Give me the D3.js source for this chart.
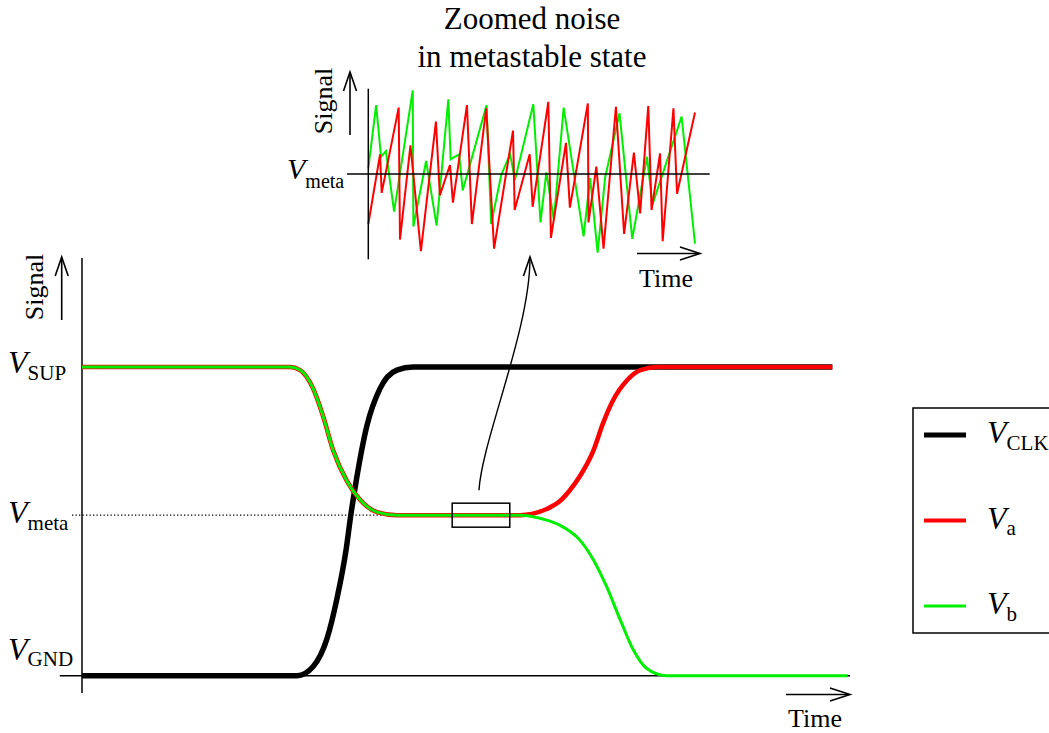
<!DOCTYPE html>
<html>
<head>
<meta charset="utf-8">
<script src="https://cdn.jsdelivr.net/npm/d3@7"></script>
</head>
<body style="margin:0">
<svg width="1049" height="733"></svg>
<script>
"use strict";

// signal levels, as a fraction of the supply
const levelNames = ["SUP", "meta", "GND"];
const levelValues = [1, 0.52, 0];

// main traces as [time, signal]
const clkPoints = [[0, 0], [28, 0], [30.1, 0.03], [31.9, 0.12], [33.2, 0.25], [34.4, 0.41], [35, 0.52],
    [35.5, 0.6], [37.1, 0.81], [38.8, 0.93], [41, 0.99], [43.1, 1], [97.7, 1]];
const vaPoints = [[0, 1], [27.1, 1], [28.4, 0.99], [30.1, 0.93], [31.4, 0.84], [32.7, 0.73], [34.5, 0.63],
    [36.2, 0.57], [38.4, 0.53], [41, 0.52], [57, 0.52], [60.5, 0.54], [62.2, 0.565], [63.5, 0.6],
    [64.8, 0.645], [66.6, 0.73], [67.8, 0.815], [69.1, 0.89], [71, 0.958], [72.7, 0.99], [75, 1], [97.7, 1]];
const vbPoints = [[0, 1], [27.1, 1], [28.4, 0.99], [30.1, 0.93], [31.4, 0.84], [32.7, 0.73], [34.5, 0.63],
    [36.2, 0.57], [38.4, 0.53], [41, 0.52], [57, 0.52], [60.5, 0.504], [62.2, 0.488], [64.8, 0.44],
    [66.6, 0.375], [68.3, 0.289], [70.1, 0.18], [71.8, 0.083], [73.5, 0.024], [76.1, 0], [99.7, 0]];

// zoomed noise around V_meta, [time, deviation]
const noiseA = [[0, -0.61], [3.6, 0.24], [4.1, -0.23], [9.3, 0.81], [9.7, -0.8], [12.9, 0.35], [16.1, -0.94],
    [20.7, 0.64], [21.9, -0.26], [25, 0.11], [25.9, -0.35], [30.2, 0.84], [31.7, -0.61], [36.1, 0.8],
    [38.5, -0.91], [44.3, 0.53], [44.8, -0.44], [49.4, 0.24], [50.3, -0.4], [55.1, 0.88], [55.9, -0.78],
    [60.5, 0.38], [61.7, -0.41], [67.2, 0.86], [67.4, -0.59], [69.8, 0.09], [72, -0.91], [75.8, 0.82],
    [78.3, -0.73], [81.3, 0.26], [83.2, -0.48], [85.7, 0.83], [86.7, -0.44], [89.3, 0.25], [90.1, -0.82],
    [93.4, 0.8], [94.5, -0.24], [100, 0.75]];
const noiseB = [[0, 0.07], [2.4, 0.84], [3.9, 0.21], [5.4, 0.28], [7.9, -0.46], [13.6, 1.02], [13.8, -0.64],
    [17.7, 0.16], [20.9, -0.63], [24.5, 0.91], [25.2, 0.18], [27.8, 0.24], [28.9, -0.2], [36.2, 0.84],
    [37.6, -0.61], [40.7, -0.01], [43.4, 0.24], [44.9, -0.07], [50.5, 0.85], [52.7, -0.59], [54.5, 0.02],
    [56.8, -0.56], [59.8, 0.81], [65.9, -0.76], [67.9, -0.05], [70.2, -0.96], [72.5, -0.04], [76.9, 0.74],
    [80.8, -0.79], [85.3, 0.21], [87, -0.37], [95.9, 0.7], [100, -0.85]];

// zoom window on the main time axis
const zoomWindow = [48.2, 55.7];

const legendNames = ["CLK", "a", "b"];
const legendColors = ["#000000", "#ff0000", "#00ee00"];
const legendWidths = [5, 4, 3];

let svg = d3.select("svg");

let x = d3.scaleLinear().domain([0, 100]).range([82, 850]);
let y = d3.scaleLinear().domain([0, 1]).range([675.7, 367]);

let xi = d3.scaleLinear().domain([0, 100]).range([368.3, 695]);
let yi = d3.scaleLinear().domain([-1, 1]).range([256, 92]);

function arrowHead(g, tx, ty, dir) {
    // open chevron, dir = "up" or "right"
    let p = dir === "up"
        ? [[tx - 6.5, ty + 19], [tx, ty], [tx + 6.5, ty + 19]]
        : [[tx - 20, ty - 6.5], [tx, ty], [tx - 20, ty + 6.5]];
    g.append("path").attr("d", d3.line()(p))
        .attr("fill", "none").attr("stroke", "#000").attr("stroke-width", 1.6);
}

// text is always set at 30px and scaled to the wanted size
function addText(g, txt, size, px, py, opts) {
    opts = opts || {};
    let t = g.append("text")
        .attr("font-family", "'Liberation Serif'")
        .attr("font-size", 30)
        .text(txt);
    if (opts.italic) t.attr("font-style", "italic");
    let s = size / 30;
    let w = t.node().getComputedTextLength() * s;
    let shift = opts.middle ? -w / 2 : 0;
    t.attr("transform", "translate(" + px + "," + py + ")" +
        (opts.rotate ? " rotate(" + opts.rotate + ")" : "") +
        " translate(" + shift + ",0) scale(" + s + ")");
    return w;
}

function vLabel(g, px, py, sub, big, small, dy) {
    let w = addText(g, "V", big, px, py, { italic: true });
    addText(g, sub, small, px + w, py + dy);
}

addText(svg, "Zoomed noise", 31, 532, 29, { middle: true });
addText(svg, "in metastable state", 31, 532, 67, { middle: true });

// ---------- main chart ----------
let main = svg.append("g");

main.append("line")
    .attr("x1", x(0)).attr("x2", x(0))
    .attr("y1", y(1.353)).attr("y2", y(-0.056))
    .attr("stroke", "#000").attr("stroke-width", 1.5);
main.append("line")
    .attr("x1", x(-2.9)).attr("x2", x(100))
    .attr("y1", y(0)).attr("y2", y(0))
    .attr("stroke", "#000").attr("stroke-width", 1.5);

// dotted V_meta guide
main.append("line")
    .attr("x1", x(-1.3)).attr("x2", x(41))
    .attr("y1", y(levelValues[1])).attr("y2", y(levelValues[1]))
    .attr("stroke", "#000").attr("stroke-width", 1.2)
    .attr("stroke-dasharray", "1.3,2.2");

let line = d3.line().x(d => x(d[0])).y(d => y(d[1])).curve(d3.curveMonotoneX);

main.append("path").datum(clkPoints).attr("d", line)
    .attr("fill", "none").attr("stroke", "#000").attr("stroke-width", 5.5);
main.append("path").datum(vaPoints).attr("d", line)
    .attr("fill", "none").attr("stroke", "#ff0000").attr("stroke-width", 4.6);
main.append("path").datum(vbPoints).attr("d", line)
    .attr("fill", "none").attr("stroke", "#00ee00").attr("stroke-width", 3);

// axis arrows and titles
main.append("line").attr("x1", 61.7).attr("x2", 61.7).attr("y1", 320).attr("y2", 258)
    .attr("stroke", "#000").attr("stroke-width", 1.6);
arrowHead(main, 61.7, 257, "up");
addText(main, "Signal", 26, 43, 287, { middle: true, rotate: -90 });

main.append("line").attr("x1", 786).attr("x2", 849).attr("y1", 694.5).attr("y2", 694.5)
    .attr("stroke", "#000").attr("stroke-width", 1.6);
arrowHead(main, 850, 694.5, "right");
addText(main, "Time", 26, 815, 727, { middle: true });

// level labels
let labelDy = [6, 8, -16];
levelNames.forEach(function (n, i) {
    vLabel(main, 8, y(levelValues[i]) + labelDy[i], n, 32, 21, 6.5);
});

// zoom window
let zy = y(levelValues[1]);
main.append("rect")
    .attr("x", x(zoomWindow[0])).attr("y", zy - 12)
    .attr("width", x(zoomWindow[1]) - x(zoomWindow[0])).attr("height", 24)
    .attr("fill", "none").attr("stroke", "#000").attr("stroke-width", 1.5);

// curved pointer to the inset
let zx = (x(zoomWindow[0]) + x(zoomWindow[1])) / 2;
main.append("path")
    .attr("d", "M" + (zx - 2) + "," + (zy - 25) + " C" + (zx + 1) + "," + (zy - 75) + " " +
        (zx + 49) + "," + (zy - 185) + " " + (zx + 49) + "," + (yi(-1) + 2))
    .attr("fill", "none").attr("stroke", "#000").attr("stroke-width", 1.4);
arrowHead(main, zx + 49, yi(-1) + 1, "up");

// ---------- inset ----------
let inset = svg.append("g");

let nline = d3.line().x(d => xi(d[0])).y(d => yi(d[1]));
inset.append("path").datum(noiseB).attr("d", nline)
    .attr("fill", "none").attr("stroke", "#00ee00").attr("stroke-width", 2);
inset.append("path").datum(noiseA).attr("d", nline)
    .attr("fill", "none").attr("stroke", "#ff0000").attr("stroke-width", 2);

inset.append("line")
    .attr("x1", xi(0)).attr("x2", xi(0))
    .attr("y1", yi(1.04)).attr("y2", yi(-1.04))
    .attr("stroke", "#000").attr("stroke-width", 1.5);
inset.append("line")
    .attr("x1", xi(-6.5)).attr("x2", xi(104.5))
    .attr("y1", yi(0)).attr("y2", yi(0))
    .attr("stroke", "#000").attr("stroke-width", 1.5);

inset.append("line").attr("x1", 350).attr("x2", 350).attr("y1", 135).attr("y2", 73)
    .attr("stroke", "#000").attr("stroke-width", 1.6);
arrowHead(inset, 350, 72, "up");
addText(inset, "Signal", 26, 331.5, 101, { middle: true, rotate: -90 });

inset.append("line").attr("x1", 637).attr("x2", 699).attr("y1", 253.5).attr("y2", 253.5)
    .attr("stroke", "#000").attr("stroke-width", 1.6);
arrowHead(inset, 700, 253.5, "right");
addText(inset, "Time", 26, 666, 287, { middle: true });

vLabel(inset, 287, yi(0) + 5, "meta", 30, 20, 8.5);

// ---------- legend ----------
let legend = svg.append("g");
legend.append("rect").attr("x", 913).attr("y", 408).attr("width", 150).attr("height", 225)
    .attr("fill", "#fff").attr("stroke", "#000").attr("stroke-width", 1.5);

let ly = d3.scalePoint().domain(legendNames).range([435, 606]);
legendNames.forEach(function (n, i) {
    legend.append("line").attr("x1", 924).attr("x2", 966)
        .attr("y1", ly(n)).attr("y2", ly(n))
        .attr("stroke", legendColors[i]).attr("stroke-width", legendWidths[i]);
    vLabel(legend, 987, ly(n) + 8, n, 32, 21, 6.5);
});
</script>
</body>
</html>
